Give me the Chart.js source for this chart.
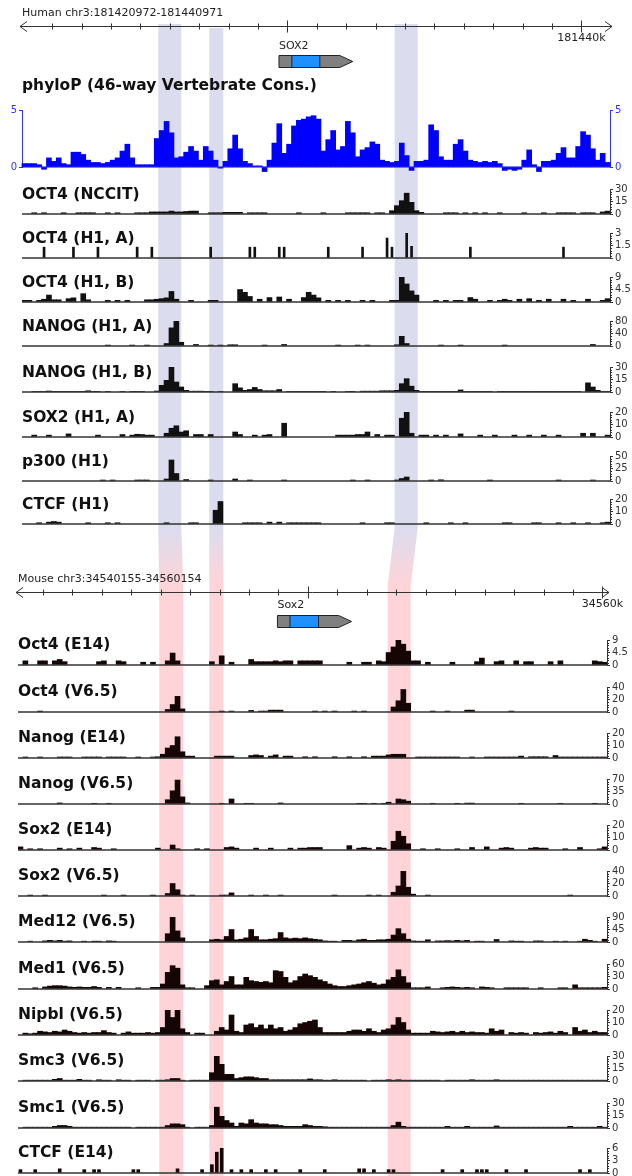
<!DOCTYPE html>
<html>
<head>
<meta charset="utf-8">
<script src="https://cdn.jsdelivr.net/npm/chart.js@4.4.1/dist/chart.umd.min.js"></script>
<style>
html, body { margin: 0; padding: 0; background: #fff; }
#page { position: relative; width: 632px; height: 1176px; overflow: hidden; }
#page canvas { position: absolute; left: 0; }
</style>
</head>
<body>
<div id="page"><canvas id="bands" width="632" height="1176" style="top:0"></canvas></div>
<script>
var FONT = "'DejaVu Sans', 'Liberation Sans', Arial, sans-serif";
var NBINS = 120;

// genome windows
var humanStart = 181420972, humanEnd = 181440971;
var mouseStart = 34540155, mouseEnd = 34560154;

// gene models: name, start, end, cds start, cds end
var humanGene = ['SOX2', 181429712, 181432223, 181430150, 181431102];
var mouseGene = ['Sox2', 34548965, 34551482, 34549390, 34550359];

// conserved regions (shaded)
var humanBands = [[181425606, 181426389], [181427343, 181427820], [181433647, 181434430]];
var mouseBands = [[34544951, 34545767], [34546652, 34547128], [34552706, 34553488]];

// phyloP, one value per bin
var phyloP = [
  0.3, 0.3, 0.3, 0.2, -0.2, 0.8, 0.5, 0.8, 0.3, 0.2,
  1.3, 1.3, 1.1, 0.6, 0.4, 0.4, 0.3, 0.4, 0.6, 0.8,
  1.4, 2.0, 0.8, 0.2, 0.2, 0.2, 0.2, 2.5, 3.2, 4.0,
  3.0, 0.8, 0.9, 1.3, 1.8, 1.4, 0.6, 1.8, 1.4, 0.6,
  -0.1, 0.5, 1.6, 2.8, 1.6, 0.5, 0.3, 0.1, 0.1, -0.4,
  0.6, 2.1, 3.8, 1.2, 2.0, 3.6, 4.1, 4.2, 4.4, 4.5,
  4.2, 1.4, 2.4, 3.2, 1.5, 1.8, 4.0, 3.0, 0.9, 1.5,
  1.7, 2.2, 2.0, 0.6, 0.5, 0.4, 0.5, 2.1, 1.0, -0.3,
  0.5, 0.5, 0.6, 3.7, 3.2, 0.9, 0.6, 0.6, 2.0, 2.4,
  1.4, 0.6, 0.5, 0.4, 0.5, 0.4, 0.5, 0.3, -0.3, -0.2,
  -0.3, -0.2, 0.6, 1.5, 0.2, -0.4, 0.5, 0.5, 0.6, 1.2,
  1.7, 0.8, 0.8, 1.8, 3.1, 2.8, 1.6, 0.6, 1.2, 0.4
];
var phyloTicks = [0, 5];

// human tracks: [bin, value] for bins with signal
var hOct4NCCIT = [[2,1.5],[4,1.5],[8,1.5],[11,1.5],[12,1.5],[13,1.5],[14,1.5],[17,1.5],[19,1.5],[23,1.5],[24,1.5],[25,1.5],[26,2.5],[27,2.5],[28,2.5],[29,2.5],[30,3.5],[31,2.5],[32,2.5],[33,3],[34,3.5],[35,3.5],[38,1.5],[39,1.5],[40,1.5],[41,2],[42,2],[43,2],[44,2],[46,1.5],[47,1.5],[48,1.5],[49,1.5],[56,1.5],[61,1.5],[66,1.5],[67,1.5],[68,1.5],[69,1.5],[70,1.5],[72,1.5],[73,1.5],[75,4],[76,10],[77,16],[78,25],[79,14],[80,4],[81,2],[86,1.5],[87,1.5],[88,1.5],[90,1.5],[92,1.5],[94,1.5],[97,1.5],[102,1.5],[106,1.5],[109,1.5],[110,1.5],[111,1.5],[112,1.5],[114,1.5],[115,1.5],[116,1.5],[118,2.5],[119,3.5]];
var hOct4H1A = [[4,1.3],[10,1.3],[15,1.3],[23,1.3],[26,1.3],[38,1.3],[46,1.3],[47,1.3],[52,1.3],[53,1.3],[62,1.3],[69,1.3],[74,2.4],[75,1.3],[78,3],[79,1.4],[91,1.3],[110,1.3]];
var hOct4H1B = [[0,0.6],[1,0.6],[3,0.6],[4,1.0],[5,2.5],[6,0.8],[7,0.8],[9,1.2],[10,1.5],[12,3.0],[13,0.8],[17,0.6],[19,0.6],[21,0.6],[25,0.8],[26,0.8],[27,1.0],[28,1.2],[29,1.5],[30,3.8],[31,1.0],[34,0.6],[38,0.6],[39,0.6],[44,4.5],[45,3.5],[46,2.0],[48,1.0],[50,1.6],[52,1.8],[54,1.0],[57,1.6],[58,3.5],[59,2.5],[60,1.5],[62,0.6],[64,0.6],[66,0.6],[69,0.6],[71,0.6],[75,0.6],[76,0.6],[77,9],[78,6.5],[79,4],[80,2.5],[84,0.6],[86,0.6],[88,0.6],[89,0.6],[91,1.6],[92,1.0],[95,0.6],[97,0.6],[98,1.0],[99,0.6],[101,1.0],[103,1.2],[105,0.6],[107,1.0],[110,1.0],[112,0.6],[115,1.0],[118,0.6],[119,1.2]];
var hNanogH1A = [[17,3],[22,3],[25,3],[29,8],[30,58],[31,80],[32,12],[35,5],[38,3],[40,3],[42,4],[43,4],[49,3],[53,5],[64,3],[68,3],[70,3],[76,4],[77,31],[78,8],[85,3],[89,3],[98,3],[116,5]];
var hNanogH1B = [[2,0.8],[3,0.8],[4,0.8],[5,1.2],[6,0.8],[7,0.8],[8,0.8],[9,0.8],[10,0.8],[11,0.8],[12,0.8],[13,1.5],[14,0.8],[15,0.8],[17,0.8],[20,0.8],[22,0.8],[23,0.8],[24,0.8],[27,1.2],[28,8],[29,14],[30,30],[31,12],[32,6],[33,2],[34,1],[35,1],[36,1],[37,0.8],[38,0.8],[40,0.8],[43,10],[44,5],[45,2],[46,3],[47,5.5],[48,3],[49,1.5],[50,1.5],[51,1.5],[52,3],[54,0.8],[55,0.8],[56,0.8],[57,0.8],[58,0.8],[59,0.8],[60,0.8],[61,0.8],[63,0.8],[66,0.8],[67,0.8],[69,1],[70,1],[71,1],[72,1],[73,1.5],[74,1.5],[75,1.5],[76,2],[77,10],[78,16],[79,7],[80,2],[81,0.8],[82,0.8],[83,0.8],[84,0.8],[85,0.8],[86,0.8],[87,0.8],[88,0.8],[89,2.5],[90,0.8],[91,0.8],[92,0.8],[93,0.8],[94,0.8],[95,0.8],[97,0.8],[98,0.8],[99,0.8],[100,0.8],[101,0.8],[102,0.8],[103,0.8],[104,0.8],[105,0.8],[106,0.8],[107,0.8],[108,0.8],[109,0.8],[110,0.8],[111,0.8],[112,0.8],[113,0.8],[115,11],[116,6],[117,2],[118,0.8],[119,0.8]];
var hSox2H1A = [[2,1.5],[5,1.5],[9,2.5],[15,1.5],[20,2],[22,1.5],[23,2.2],[24,2],[25,1.5],[26,1.5],[29,3],[30,7],[31,9],[32,4],[33,5],[35,2],[36,2],[38,2],[43,4],[44,2],[47,1.5],[49,1.5],[50,2],[53,11],[64,1.5],[65,1.5],[66,1.5],[67,1.5],[68,2],[69,2],[70,4],[72,2],[74,1.5],[75,1.5],[77,15],[78,20],[79,3],[81,1.5],[82,1.5],[84,1.5],[86,1.5],[89,2.5],[93,1.5],[96,1.5],[100,1.5],[103,1.5],[106,1.5],[109,1.5],[114,3],[116,3],[119,1.5]];
var hP300H1 = [[16,2],[18,2],[23,2],[24,2],[25,2],[29,4],[30,42],[31,15],[33,3],[38,2],[43,4],[46,2],[53,2],[67,2],[70,2],[76,2],[77,5],[78,8],[83,2],[85,2.5],[95,2],[109,2],[116,2]];
var hCtcfH1 = [[3,1],[5,1.5],[6,2],[7,1.5],[13,1],[17,1],[19,1],[29,1],[34,1],[35,1],[39,11],[40,18],[45,1],[46,1],[47,1],[48,1],[50,1.5],[52,1.5],[54,1],[55,1],[56,1],[57,1],[58,1],[59,1],[60,1],[69,1],[74,1],[75,1],[82,1],[87,1],[90,1],[98,1],[99,1],[104,1],[105,1],[109,1],[112,1],[115,1],[118,1],[119,1.5]];

var humanTitles = ['OCT4 (NCCIT)', 'OCT4 (H1, A)', 'OCT4 (H1, B)', 'NANOG (H1, A)', 'NANOG (H1, B)', 'SOX2 (H1, A)', 'p300 (H1)', 'CTCF (H1)'];
var humanMax = [30, 3, 9, 80, 30, 20, 50, 20];
var humanData = [hOct4NCCIT, hOct4H1A, hOct4H1B, hNanogH1A, hNanogH1B, hSox2H1A, hP300H1, hCtcfH1];

// mouse tracks
var mOct4E14 = [[1,1.5],[4,1.5],[5,1.5],[7,1.5],[8,2],[9,1.2],[16,1.2],[17,1.5],[20,1.5],[21,1.2],[25,1],[27,1],[30,1.5],[31,4.3],[32,1.5],[39,1.2],[41,3.3],[43,1],[47,2],[48,1.2],[49,1.2],[50,1.2],[51,1.2],[52,1.5],[53,1.2],[54,1.5],[55,1.5],[57,1.5],[58,1.5],[59,1.5],[60,1.5],[61,1.5],[67,1],[70,1],[71,1],[73,1.5],[74,1.2],[75,4.5],[76,6.5],[77,9],[78,7.5],[79,5],[80,1.5],[81,1.5],[83,1],[88,1],[93,1.2],[94,2.5],[97,1.2],[98,1.5],[101,1.5],[103,1.2],[104,1.2],[108,1.2],[110,1.5],[117,1.5],[118,1.2],[119,1]];
var mOct4V65 = [[4,1.5],[30,4],[31,12],[32,25],[33,5],[41,1.5],[43,1.5],[47,2.5],[49,1.5],[50,1.5],[51,3],[52,3],[53,3],[60,1.5],[62,1.5],[64,1.5],[68,1.5],[70,1.5],[76,8],[77,18],[78,36],[79,14],[84,1.5],[87,1.5],[91,3],[92,3],[100,1.5]];
var mNanogE14 = [[1,0.8],[4,0.8],[8,0.8],[9,0.8],[10,0.8],[13,0.8],[14,0.8],[15,0.8],[16,0.8],[18,0.8],[19,0.8],[20,0.8],[21,0.8],[24,0.8],[27,0.8],[28,1],[29,3],[30,8],[31,10],[32,17],[33,5],[34,1.5],[35,1.5],[40,1.5],[41,1.5],[42,1.5],[43,1.5],[47,2],[48,2.5],[49,2],[51,1.5],[52,2.5],[54,1.5],[55,1.5],[58,1],[60,1],[64,1],[67,1],[70,1],[72,1.5],[73,1.5],[74,1.5],[75,2.5],[76,3],[77,3],[78,3],[81,0.8],[82,0.8],[83,0.8],[84,0.8],[85,0.8],[86,0.8],[87,0.8],[88,0.8],[89,0.8],[92,0.8],[95,0.8],[96,0.8],[97,0.8],[98,0.8],[99,0.8],[100,0.8],[101,0.8],[102,1.5],[104,1],[105,1],[106,1],[107,1],[109,2],[110,0.8],[111,0.8],[112,0.8],[113,0.8],[114,0.8],[115,0.8],[116,0.8],[117,0.8],[118,0.8],[119,0.8]];
var mNanogV65 = [[8,3],[15,2],[18,2],[30,12],[31,37],[32,67],[33,20],[34,3],[41,2],[43,14],[46,2],[47,2],[53,3],[69,2],[70,2],[72,2],[74,2],[75,5],[77,14],[78,12],[79,8],[84,2],[89,2],[91,2.5],[92,2.5],[102,2],[110,2],[117,2]];
var mSox2E14 = [[0,2.5],[2,1],[4,1],[8,1.5],[10,1],[12,1.5],[15,2],[16,1.5],[19,1],[28,1.5],[31,4],[32,1],[36,1],[38,1],[42,2],[43,2.5],[44,1.5],[48,1.5],[51,1.5],[55,1.5],[57,1.5],[58,1.5],[59,2],[60,2],[61,2],[67,3.5],[69,1.5],[70,2],[71,1.5],[73,2],[74,1.5],[76,7],[77,15],[78,11],[79,5],[82,1],[85,1],[89,1],[92,2],[95,2.5],[98,1.5],[99,2],[100,1.5],[104,1.5],[105,2],[106,1.5],[107,1.5],[111,1],[114,2],[118,1],[119,2.5]];
var mSox2V65 = [[2,1.5],[5,1.5],[17,1.5],[21,1.5],[27,1.5],[30,4],[31,20],[32,10],[33,1.5],[35,1.5],[41,1.5],[42,1.5],[43,5],[47,1.5],[50,1.5],[53,1.5],[64,1.5],[71,1.5],[73,1.5],[76,6],[77,16],[78,40],[79,14],[80,3],[83,1.5],[112,1.5]];
var mMed12V65 = [[2,3],[5,4],[6,6],[7,4],[8,6],[9,3],[10,4],[13,3],[15,3],[16,3],[18,4],[19,3],[30,30],[31,90],[32,40],[33,15],[39,8],[40,10],[41,8],[42,20],[43,45],[44,8],[45,10],[46,15],[47,45],[48,20],[49,8],[50,8],[51,10],[52,12],[53,34],[54,15],[55,12],[56,14],[57,12],[58,15],[59,12],[60,10],[61,8],[62,4],[63,3],[64,3],[66,6],[67,6],[68,4],[69,8],[70,10],[71,6],[72,6],[73,8],[74,8],[75,10],[76,25],[77,48],[78,30],[79,10],[80,4],[81,3],[82,3],[83,8],[85,4],[86,4],[87,5],[88,4],[89,6],[90,4],[91,6],[93,3],[94,3],[97,9],[100,4],[101,3],[102,3],[105,4],[106,4],[109,3],[111,3],[114,3],[115,10],[116,6],[117,3],[119,10]];
var mMed1V65 = [[3,3],[5,5],[6,7],[7,8],[8,8],[9,7],[10,5],[11,4],[12,5],[13,4],[14,4],[15,6],[16,4],[18,4],[20,4],[24,3],[27,4],[28,4],[29,12],[30,40],[31,56],[32,50],[33,10],[34,3],[35,3],[38,8],[39,20],[40,22],[41,10],[42,18],[43,30],[44,10],[45,10],[46,28],[47,20],[48,18],[49,16],[50,18],[51,15],[52,44],[53,42],[54,28],[55,15],[56,20],[57,30],[58,36],[59,32],[60,28],[61,22],[62,18],[63,12],[64,8],[65,6],[66,6],[67,8],[68,10],[69,12],[70,15],[71,18],[72,14],[73,10],[74,12],[75,22],[76,28],[77,46],[78,30],[79,15],[80,3],[81,3],[82,3],[83,5],[86,3],[87,4],[88,5],[89,4],[90,3],[91,4],[92,3],[94,5],[95,4],[96,3],[99,3],[100,3],[101,3],[102,3],[103,3],[106,3],[110,3],[111,3],[113,10],[114,3],[115,3],[116,3],[117,3],[118,3],[119,4]];
var mNipblV65 = [[1,1.5],[2,1],[3,1.5],[4,3],[5,2.5],[6,2],[7,3],[8,2.5],[9,4],[10,3],[11,2],[12,1.5],[13,2],[14,1.5],[15,2],[16,2],[17,3.5],[18,2],[19,1.5],[21,1.5],[22,2.5],[23,1.5],[24,1.5],[25,1.5],[26,2],[27,1.5],[28,2],[29,6],[30,20],[31,14],[32,20],[33,5],[34,2],[36,1.5],[37,1.5],[40,3],[41,6],[42,4],[43,16],[44,3],[45,2],[46,8],[47,9],[48,6],[49,8],[50,5],[51,8],[52,5],[53,6],[54,3],[55,4],[56,6],[57,9],[58,10],[59,11],[60,12],[61,6],[62,2],[63,2],[64,2],[65,2],[66,2],[67,3],[68,4],[69,4],[70,3],[71,5],[72,3],[73,2],[74,4],[75,5],[76,8],[77,14],[78,10],[79,4],[80,1.5],[81,1.5],[82,1.5],[83,1.5],[84,3],[85,2.5],[86,2],[87,2.5],[88,3],[89,2],[90,3],[91,2],[92,2.5],[93,2],[94,2],[95,1.5],[96,5],[97,3],[98,4],[100,2],[101,1.5],[102,2],[103,1.5],[105,2],[106,1.5],[107,2],[108,2.5],[109,1.5],[110,3],[111,2],[113,6],[114,3],[115,4],[116,2],[117,3],[118,2],[119,2]];
var mSmc3V65 = [[1,1],[2,1],[3,1],[4,1],[5,1],[6,1],[7,2],[8,3],[9,1],[10,1],[11,1],[12,2],[13,1],[14,1],[16,1.5],[17,1],[18,1],[20,1.5],[21,1],[22,1],[24,1],[25,1],[26,1],[28,1],[29,1],[30,1.5],[31,3],[32,3],[33,1],[35,1],[36,1],[37,1],[38,1],[39,10],[40,30],[41,20],[42,8],[43,8],[44,3],[45,4],[46,5],[47,5],[48,4],[49,3],[50,3],[51,1.5],[52,1.5],[53,1.5],[54,1.5],[55,1.5],[56,1.5],[57,1.5],[58,1.5],[59,2.5],[60,1.5],[61,1.5],[62,1],[63,1],[64,1.5],[65,1],[66,1],[67,1],[68,1],[69,1],[70,1],[72,1],[73,1],[74,1],[75,1.5],[76,1],[77,1.5],[78,1],[79,1],[80,1],[81,1],[82,1],[83,1],[84,1],[85,1],[87,1],[88,1],[89,1],[90,1],[91,1],[92,1.5],[93,1],[94,1],[95,1],[96,1],[97,1.5],[98,1],[99,1],[100,1],[101,1],[102,1],[103,1],[104,1],[105,1],[106,1],[107,1],[108,1],[109,1],[110,1],[111,1],[112,1],[113,1],[114,1],[115,1],[116,1],[117,1],[118,1],[119,1]];
var mSmc1V65 = [[1,1],[2,1],[3,1],[4,1],[5,1],[6,1],[7,2],[8,3],[9,3],[10,2],[11,1],[12,1],[13,1],[14,1],[15,1],[16,1],[17,1],[18,1],[19,1],[20,1],[21,1],[22,1],[24,1],[25,1],[26,1],[27,1],[28,1],[29,1],[30,3],[31,5],[32,5],[33,4],[34,1],[36,1],[37,1],[38,1],[39,3],[40,25],[41,14],[42,9],[43,6],[44,2],[45,6],[46,5],[47,10],[48,6],[49,5],[50,5],[51,4],[52,4],[53,3],[54,2],[55,2],[56,2],[57,2],[58,4],[59,3],[60,2],[61,2],[62,1.5],[63,1],[64,1],[65,1],[66,1],[67,1],[68,1],[69,1],[70,1],[71,1],[72,1],[73,1],[74,1],[75,1],[76,3],[77,7],[78,2],[79,1],[80,1],[81,1],[82,1],[83,1],[84,1],[85,1],[86,1],[87,2],[88,1],[89,1],[90,1],[91,2],[92,1],[93,1],[94,1],[95,1],[96,1],[97,2.5],[98,1],[99,1],[100,1],[101,1],[102,1],[103,1],[104,1],[105,1],[106,1],[107,1],[108,1],[109,1],[110,1],[111,1],[112,2],[113,1],[114,1],[115,1],[116,1],[117,1],[118,2],[119,1]];
var mCtcfE14 = [[0,0.8],[3,0.8],[8,1],[13,0.8],[15,0.8],[16,0.8],[23,0.8],[24,0.8],[32,1],[37,0.8],[39,2],[40,5],[41,6],[43,0.8],[45,0.8],[47,0.8],[50,0.8],[52,0.8],[57,0.8],[62,0.8],[69,1],[70,1],[72,0.8],[75,0.8],[76,0.8],[86,0.8],[90,0.8],[93,0.8],[94,0.8],[95,0.8],[99,0.8],[103,0.8],[114,0.8],[116,0.8]];

var mouseTitles = ['Oct4 (E14)', 'Oct4 (V6.5)', 'Nanog (E14)', 'Nanog (V6.5)', 'Sox2 (E14)', 'Sox2 (V6.5)', 'Med12 (V6.5)', 'Med1 (V6.5)', 'Nipbl (V6.5)', 'Smc3 (V6.5)', 'Smc1 (V6.5)', 'CTCF (E14)'];
var mouseMax = [9, 40, 20, 70, 20, 40, 90, 60, 20, 30, 30, 6];
var mouseData = [mOct4E14, mOct4V65, mNanogE14, mNanogV65, mSox2E14, mSox2V65, mMed12V65, mMed1V65, mNipblV65, mSmc3V65, mSmc1V65, mCtcfE14];

// layout
var humanBase = [214, 258, 302, 346, 392, 437, 481, 524];
var mouseBase = [665, 712, 758, 804, 850, 896, 942, 989, 1035, 1081, 1128, 1173];
var humanBarWidth = [5, 2, 5, 5, 5, 5, 5, 5];
var mouseBarWidth = [5, 5, 5, 5, 5, 5, 5, 5, 5, 5, 5, 3];

var page = document.getElementById('page');

function toPoints(pairs, start, end) {
  var bin = (end - start + 1) / NBINS;
  return pairs.map(function (p) {
    return { x: start + (p[0] + 0.5) * bin, y: p[1] };
  });
}

function addCanvas(top, h) {
  var c = document.createElement('canvas');
  c.width = 632; c.height = h;
  c.style.top = top + 'px';
  page.appendChild(c);
  return c;
}

function fixedTicks(values) {
  return function (s) { s.ticks = values.map(function (v) { return { value: v }; }); };
}

function rulerPlugin(cfg) {
  return {
    id: 'ruler',
    afterDraw: function (chart) {
      var ctx = chart.ctx, x = chart.scales.x, a = chart.chartArea;
      var y = cfg.y + 0.5;
      ctx.save();
      ctx.strokeStyle = '#333';
      ctx.fillStyle = '#222';
      ctx.lineWidth = 1;
      ctx.font = '11px ' + FONT;
      ctx.textBaseline = 'middle';
      ctx.textAlign = 'left';
      ctx.fillText(cfg.label, a.left, cfg.y - 13);

      ctx.beginPath();
      ctx.moveTo(a.left - 2, y); ctx.lineTo(a.right + 2, y);
      ctx.moveTo(a.left + 5, y - 5); ctx.lineTo(a.left - 2, y); ctx.lineTo(a.left + 5, y + 5);
      ctx.moveTo(a.right - 5, y - 5); ctx.lineTo(a.right + 2, y); ctx.lineTo(a.right - 5, y + 5);
      ctx.stroke();

      var lastMajor = null;
      for (var v = Math.ceil(x.min / 1000) * 1000; v <= x.max; v += 1000) {
        var px = Math.round(x.getPixelForValue(v)) + 0.5;
        if (px < a.left + 6 || px > a.right - 1) continue;
        var major = v % 10000 === 0, len = major ? 6 : 3;
        ctx.beginPath();
        ctx.moveTo(px, y - len); ctx.lineTo(px, y + len);
        ctx.stroke();
        if (major) lastMajor = [v, px];
      }
      if (lastMajor) {
        ctx.textAlign = 'center';
        ctx.fillText(lastMajor[0] / 1000 + 'k', lastMajor[1], cfg.y + 12);
      }

      // gene model
      var g = cfg.gene;
      var g1 = x.getPixelForValue(g[1]), g2 = x.getPixelForValue(g[2]);
      var c1 = x.getPixelForValue(g[3]), c2 = x.getPixelForValue(g[4]);
      ctx.textAlign = 'left';
      ctx.fillText(g[0], g1, cfg.y + cfg.geneLabelDy);
      var top = Math.round(cfg.y + cfg.geneDy) + 0.5, h = 12, mid = top + h / 2;
      ctx.beginPath();
      ctx.moveTo(g1, top); ctx.lineTo(g2 - 13, top); ctx.lineTo(g2, mid);
      ctx.lineTo(g2 - 13, top + h); ctx.lineTo(g1, top + h); ctx.closePath();
      ctx.fillStyle = '#808080'; ctx.fill();
      ctx.strokeStyle = '#222'; ctx.stroke();
      ctx.fillStyle = '#1e90ff';
      ctx.fillRect(c1, top, c2 - c1, h);
      ctx.strokeRect(c1, top, c2 - c1, h);
      ctx.restore();
    }
  };
}

function trackPlugin(title, lineColor, titleDy) {
  return {
    id: 'track',
    afterDatasetsDraw: function (chart) {
      var ctx = chart.ctx, a = chart.chartArea, ys = chart.scales.y;
      var y0 = ys.getPixelForValue(0);
      ctx.save();
      ctx.strokeStyle = lineColor;
      ctx.lineWidth = 1.5;
      ctx.beginPath(); ctx.moveTo(a.left, y0); ctx.lineTo(a.right, y0); ctx.stroke();
      // minor ticks on the right axis
      ctx.lineWidth = 1;
      ctx.beginPath();
      for (var k = 1; k < 10; k++) {
        if (k === 5) continue;
        var py = Math.round(ys.getPixelForValue(ys.max * k / 10)) + 0.5;
        ctx.moveTo(a.right, py); ctx.lineTo(a.right + 2, py);
      }
      ctx.stroke();
      ctx.restore();
    },
    afterDraw: function (chart) {
      var ctx = chart.ctx, a = chart.chartArea;
      ctx.save();
      ctx.font = 'bold 15.5px ' + FONT;
      ctx.fillStyle = '#111';
      ctx.textBaseline = 'middle';
      ctx.fillText(title, a.left, a.bottom - titleDy);
      ctx.restore();
    }
  };
}

function axisOpts(max, ticks, pos, color, width) {
  return {
    position: pos, min: 0, max: max,
    afterBuildTicks: fixedTicks(ticks),
    afterFit: function (s) { s.width = width; },
    ticks: { font: { family: FONT, size: 10 }, color: color, padding: 2, autoSkip: false, maxRotation: 0 },
    grid: { drawOnChartArea: false, drawTicks: true, tickLength: 3, color: color, lineWidth: 1 },
    border: { display: true, color: color, width: 1 }
  };
}

var baseOptions = { responsive: false, animation: false, events: [] };

function header(top, h, start, end, padL, padR, cfg) {
  return new Chart(addCanvas(top, h), {
    type: 'bar',
    data: { datasets: [] },
    options: Object.assign({}, baseOptions, {
      layout: { padding: { left: padL, right: padR, top: 0, bottom: 0 } },
      plugins: { legend: { display: false }, tooltip: { enabled: false } },
      scales: {
        x: { type: 'linear', min: start, max: end, display: false, offset: false },
        y: { display: false }
      }
    }),
    plugins: [rulerPlugin(cfg)]
  });
}

function track(base, title, max, pairs, start, end, padL, padR, barW, color, titleDy) {
  return new Chart(addCanvas(base - 38, 46), {
    type: 'bar',
    data: { datasets: [{ data: toPoints(pairs, start, end), backgroundColor: color, borderWidth: 0, barThickness: barW }] },
    options: Object.assign({}, baseOptions, {
      layout: { padding: { left: padL, right: padR, top: 13, bottom: 8 } },
      plugins: { legend: { display: false }, tooltip: { enabled: false } },
      scales: {
        x: { type: 'linear', min: start, max: end, display: false, offset: false },
        y: axisOpts(max, [0, max / 2, max], 'right', '#333', 22)
      }
    }),
    plugins: [trackPlugin(title, '#333', titleDy)]
  });
}

// human header (ruler + gene)
header(0, 74, humanStart, humanEnd, 22, 22, {
  y: 26, label: 'Human chr3:181420972-181440971', gene: humanGene, geneLabelDy: 20, geneDy: 29
});

// phyloP
new Chart(addCanvas(74, 104), {
  type: 'bar',
  data: { datasets: [{ data: toPoints(phyloP.map(function (v, i) { return [i, v]; }), humanStart, humanEnd), backgroundColor: '#0000ff', borderWidth: 0, barThickness: 5, clip: false }] },
  options: Object.assign({}, baseOptions, {
    layout: { padding: { left: 0, right: 0, top: 36, bottom: 11 } },
    plugins: { legend: { display: false }, tooltip: { enabled: false } },
    scales: {
      x: { type: 'linear', min: humanStart, max: humanEnd, display: false, offset: false },
      y: axisOpts(5, phyloTicks, 'left', '#3333ff', 22),
      y2: axisOpts(5, phyloTicks, 'right', '#3333ff', 22)
    }
  }),
  plugins: [{
    id: 'phylo',
    afterDatasetsDraw: function (chart) {
      var ctx = chart.ctx, a = chart.chartArea, y0 = chart.scales.y.getPixelForValue(0);
      ctx.save();
      ctx.strokeStyle = '#0000ff'; ctx.lineWidth = 1;
      ctx.beginPath(); ctx.moveTo(a.left, y0); ctx.lineTo(a.right, y0); ctx.stroke();
      ctx.font = 'bold 15.5px ' + FONT; ctx.fillStyle = '#111'; ctx.textBaseline = 'middle';
      ctx.fillText('phyloP (46-way Vertebrate Cons.)', a.left, 12);
      ctx.restore();
    }
  }]
});

var humanCharts = humanTitles.map(function (t, i) {
  return track(humanBase[i], t, humanMax[i], humanData[i], humanStart, humanEnd, 22, 0, humanBarWidth[i], '#111', 19);
});

// mouse header (ruler + gene), ruler line at page y 592
header(566, 74, mouseStart, mouseEnd, 18, 25, {
  y: 26, label: 'Mouse chr3:34540155-34560154', gene: mouseGene, geneLabelDy: 13, geneDy: 23
});

var mouseCharts = mouseTitles.map(function (t, i) {
  return track(mouseBase[i], t, mouseMax[i], mouseData[i], mouseStart, mouseEnd, 18, 3, mouseBarWidth[i], '#150505', 20);
});

// shaded regions and the links between species
(function drawBands() {
  var ctx = document.getElementById('bands').getContext('2d');
  var hx = humanCharts[0].scales.x, mx = mouseCharts[0].scales.x;
  var lavender = '#dcdcef', pink = '#ffd4d8';
  var tops = [24, 28, 24], yH = 528, yM = 586;
  humanBands.forEach(function (b, i) {
    var h1 = hx.getPixelForValue(b[0]), h2 = hx.getPixelForValue(b[1]);
    var m1 = mx.getPixelForValue(mouseBands[i][0]), m2 = mx.getPixelForValue(mouseBands[i][1]);
    ctx.fillStyle = lavender;
    ctx.fillRect(h1, tops[i], h2 - h1, yH - tops[i]);
    var grad = ctx.createLinearGradient(0, yH, 0, yM);
    grad.addColorStop(0, lavender);
    grad.addColorStop(1, pink);
    ctx.fillStyle = grad;
    ctx.beginPath();
    ctx.moveTo(h1, yH); ctx.lineTo(h2, yH); ctx.lineTo(m2, yM); ctx.lineTo(m1, yM);
    ctx.closePath(); ctx.fill();
    ctx.fillStyle = pink;
    ctx.fillRect(m1, yM, m2 - m1, 1176 - yM);
  });
})();
</script>
</body>
</html>
